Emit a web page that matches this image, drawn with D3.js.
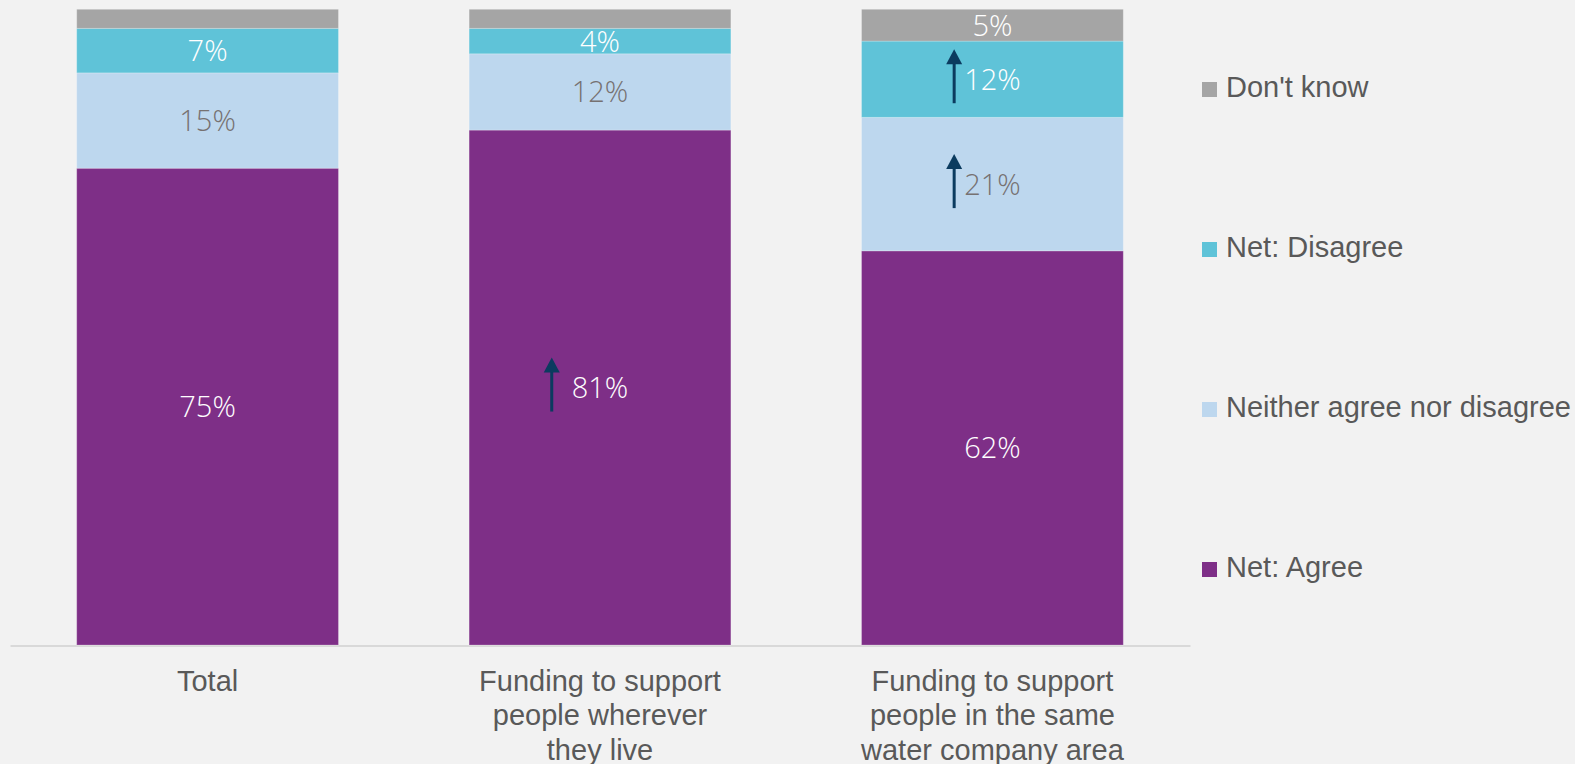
<!DOCTYPE html>
<html>
<head>
<meta charset="utf-8">
<script src="https://cdn.jsdelivr.net/npm/d3@7"></script>
<style>
  html, body { margin: 0; padding: 0; background: #F2F2F2; }
  svg { display: block; }
</style>
</head>
<body>
<svg id="chart" width="1575" height="764"></svg>
<script>
// Survey response shares (%) per funding option
const categories = ["Total", "Funding to support people wherever they live", "Funding to support people in the same water company area"];
const categoryLines = [
  ["Total"],
  ["Funding to support", "people wherever", "they live"],
  ["Funding to support", "people in the same", "water company area"]
];
const seriesNames = ["Net: Agree", "Neither agree nor disagree", "Net: Disagree", "Don't know"];
const netAgree = [75, 81, 62];
const neither = [15, 12, 21];
const netDisagree = [7, 4, 12];
const dontKnow = [3, 3, 5];
// Segments flagged as significantly higher than Total
const higherMarks = [
  { category: 1, series: "Net: Agree" },
  { category: 2, series: "Net: Disagree" },
  { category: 2, series: "Neither agree nor disagree" }
];

const colors = {
  "Net: Agree": "#7E2F87",
  "Neither agree nor disagree": "#BDD7EE",
  "Net: Disagree": "#5FC3D8",
  "Don't know": "#A5A5A5"
};
const labelColors = {
  "Net: Agree": "#FFFFFF",
  "Neither agree nor disagree": "#767171",
  "Net: Disagree": "#FFFFFF",
  "Don't know": "#FFFFFF"
};

const rows = categories.map((c, i) => ({
  category: c,
  "Net: Agree": netAgree[i],
  "Neither agree nor disagree": neither[i],
  "Net: Disagree": netDisagree[i],
  "Don't know": dontKnow[i]
}));

const svg = d3.select("#chart");
svg.append("rect").attr("width", 1575).attr("height", 764).attr("fill", "#F2F2F2");

const x = d3.scaleBand().domain(categories).range([10, 1190]).paddingInner(0.333).paddingOuter(0.17);
const y = d3.scaleLinear().domain([0, 100]).range([645, 9.3]);

const stacked = d3.stack().keys(seriesNames)(rows);

// Baseline axis
const axis = svg.append("g").attr("transform", `translate(0,${y(0) + 0.5})`)
  .call(d3.axisBottom(x).tickSize(0).tickSizeOuter(0).tickFormat(""));
axis.select(".domain").attr("stroke", "#D9D9D9").attr("stroke-width", 2);

// Category labels, wrapped over several lines
axis.selectAll(".tick").each(function(d, i) {
  const t = d3.select(this).append("text")
    .attr("fill", "#595959")
    .attr("font-family", "'Liberation Sans', Arial, sans-serif")
    .attr("font-size", 29)
    .attr("text-anchor", "middle");
  categoryLines[i].forEach((line, j) => {
    t.append("tspan").attr("x", 0).attr("y", 45 + j * 34.5).text(line);
  });
});

// Stacked bars
const layers = svg.append("g").selectAll("g").data(stacked).join("g")
  .attr("fill", d => colors[d.key]);

layers.selectAll("rect").data(d => d.map(p => ({ key: d.key, p }))).join("rect")
  .attr("x", d => x(d.p.data.category))
  .attr("width", x.bandwidth())
  .attr("y", d => y(d.p[1]))
  .attr("height", d => y(d.p[0]) - y(d.p[1]))
  .attr("stroke", "rgba(255,255,255,0.22)")
  .attr("stroke-width", 1);

// Value labels
const labelFont = "'Open Sans', 'Noto Sans', sans-serif";
const labelData = [];
stacked.forEach(layer => {
  layer.forEach(p => {
    const v = p.data[layer.key];
    if (v >= 4) labelData.push({ key: layer.key, p, v });
  });
});

const labels = svg.append("g").selectAll("text").data(labelData).join("text")
  .attr("x", d => x(d.p.data.category) + x.bandwidth() / 2)
  .attr("y", d => (y(d.p[0]) + y(d.p[1])) / 2)
  .attr("dy", "0.36em")
  .attr("text-anchor", "middle")
  .attr("font-family", labelFont)
  .attr("font-weight", 300)
  .attr("font-size", 29)
  .attr("fill", d => labelColors[d.key])
  .text(d => d.v + "%");

// Upward arrows beside flagged labels
const arrowColor = "#0B3B5F";
const arrows = svg.append("g");
higherMarks.forEach(m => {
  const cat = categories[m.category];
  const layer = stacked.find(s => s.key === m.series);
  const p = layer[m.category];
  const cy = (y(p[0]) + y(p[1])) / 2;
  const node = labels.filter(d => d.key === m.series && d.p.data.category === cat).node();
  const w = node ? node.getComputedTextLength() : 50;
  const gap = m.series === "Net: Agree" ? 20 : 10;
  const ax = x(cat) + x.bandwidth() / 2 - w / 2 - gap;
  const top = cy - 30, bottom = cy + 24;
  arrows.append("line")
    .attr("x1", ax).attr("x2", ax)
    .attr("y1", top + 12).attr("y2", bottom)
    .attr("stroke", arrowColor).attr("stroke-width", 3);
  arrows.append("path")
    .attr("d", `M${ax},${top} L${ax + 8},${top + 15} L${ax - 8},${top + 15} Z`)
    .attr("fill", arrowColor);
});

// Legend
const legendOrder = seriesNames.slice().reverse();
const legend = svg.append("g").selectAll("g").data(legendOrder).join("g")
  .attr("transform", (d, i) => `translate(1202,${87 + i * 160})`);
legend.append("rect")
  .attr("x", 0).attr("y", -5).attr("width", 15).attr("height", 15)
  .attr("fill", d => colors[d]);
legend.append("text")
  .attr("x", 24).attr("y", 0).attr("dy", "0.35em")
  .attr("fill", "#595959")
  .attr("font-family", "'Liberation Sans', Arial, sans-serif")
  .attr("font-size", 29)
  .text(d => d);
</script>
</body>
</html>
